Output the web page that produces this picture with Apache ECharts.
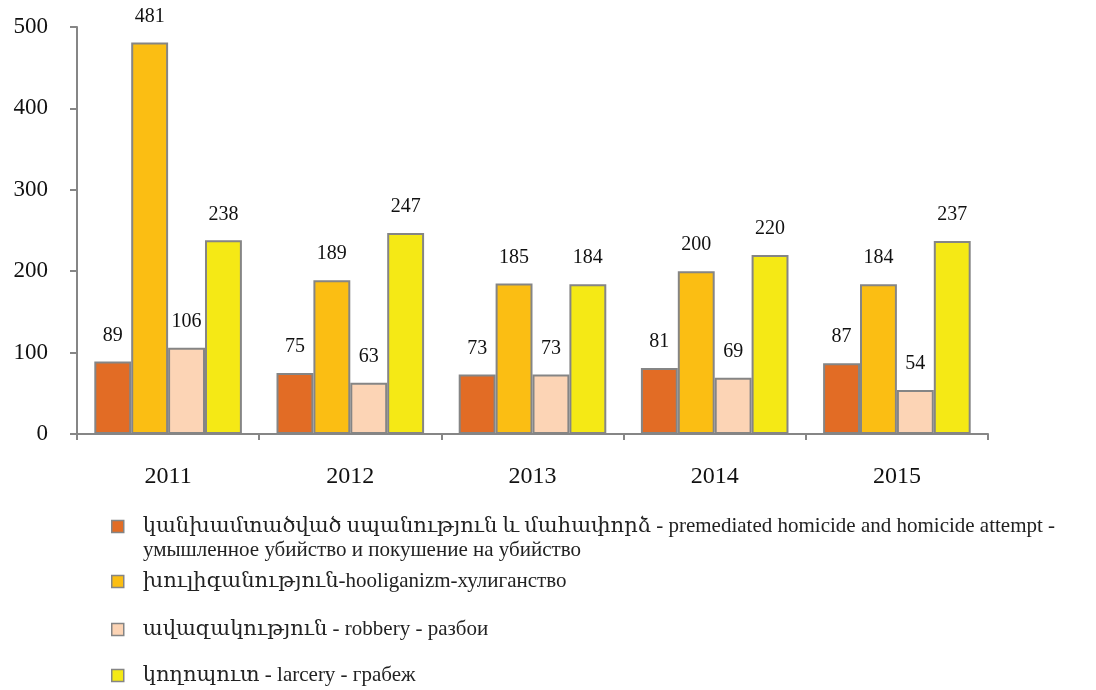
<!DOCTYPE html>
<html>
<head>
<meta charset="utf-8">
<script src="https://cdn.jsdelivr.net/npm/echarts@6/dist/echarts.min.js"></script>
<style>
html, body { margin: 0; padding: 0; background: #fff; }
#chart1 { width: 1096px; height: 690px; }
</style>
</head>
<body>
<div id="chart1"></div>
<script>
var years = ['2011', '2012', '2013', '2014', '2015'];
var homicide = [89, 75, 73, 81, 87];
var hooligan = [481, 189, 185, 200, 184];
var robbery = [106, 63, 73, 69, 54];
var larceny = [238, 247, 184, 220, 237];
var yTicks = [0, 100, 200, 300, 400, 500];

var names = [
    'կանխամտածված սպանություն և մահափորձ - premediated homicide and homicide attempt -',
    'խուլիգանություն-hooliganizm-хулиганство',
    'ավազակություն - robbery - разбои',
    'կողոպուտ - larcery - грабеж'
];
var colors = ['#E26C25', '#FBBE13', '#FCD4B5', '#F5E915'];
var serif = '"Liberation Serif", "DejaVu Serif", serif';

function chart1() {
    var myChart = echarts.init(document.getElementById('chart1'));
    var data = [homicide, hooligan, robbery, larceny];
    var series = data.map(function (vals, i) {
        return {
            name: names[i],
            type: 'bar',
            data: vals,
            barGap: '0%',
            barCategoryGap: '19%',
            itemStyle: {
                color: colors[i],
                borderColor: '#858585',
                borderWidth: 2
            },
            label: {
                show: true,
                position: 'top',
                distance: 16,
                color: '#111',
                fontFamily: serif,
                fontSize: 20
            }
        };
    });
    var tops = [511, 566, 614, 660];
    var legends = names.map(function (n, i) {
        return {
            data: [n],
            left: 106,
            top: tops[i],
            icon: 'rect',
            itemWidth: 12,
            itemHeight: 12,
            itemGap: 0,
            selectedMode: false,
            itemStyle: { borderColor: '#858585', borderWidth: 1.5 },
            textStyle: { fontFamily: serif, fontSize: 21, color: '#222', padding: [0, 0, 0, 14] }
        };
    });
    option = {
        animation: false,
        grid: { left: 77, right: 108, top: 27, bottom: 256 },
        legend: legends,
        xAxis: {
            type: 'category',
            data: years,
            axisLine: { lineStyle: { color: '#868686', width: 2 } },
            axisTick: { show: true, length: 6, lineStyle: { color: '#868686', width: 2 } },
            axisLabel: { margin: 31, color: '#111', fontFamily: serif, fontSize: 24 }
        },
        yAxis: {
            type: 'value',
            min: 0,
            max: 500,
            interval: 100,
            splitLine: { show: false },
            axisLine: { show: true, lineStyle: { color: '#868686', width: 2 } },
            axisTick: { show: true, length: 7, lineStyle: { color: '#868686', width: 2 } },
            axisLabel: {
                margin: 29, color: '#111', fontFamily: serif, fontSize: 23,
                formatter: function (v) { return yTicks.indexOf(v) >= 0 ? String(v) : ''; }
            }
        },
        graphic: [{
            type: 'text',
            left: 143,
            top: 540,
            style: {
                text: 'умышленное убийство и покушение на убийство',
                font: '21px ' + serif,
                fill: '#222'
            }
        }],
        series: series
    };
    myChart.setOption(option);
}
chart1();
</script>
</body>
</html>
